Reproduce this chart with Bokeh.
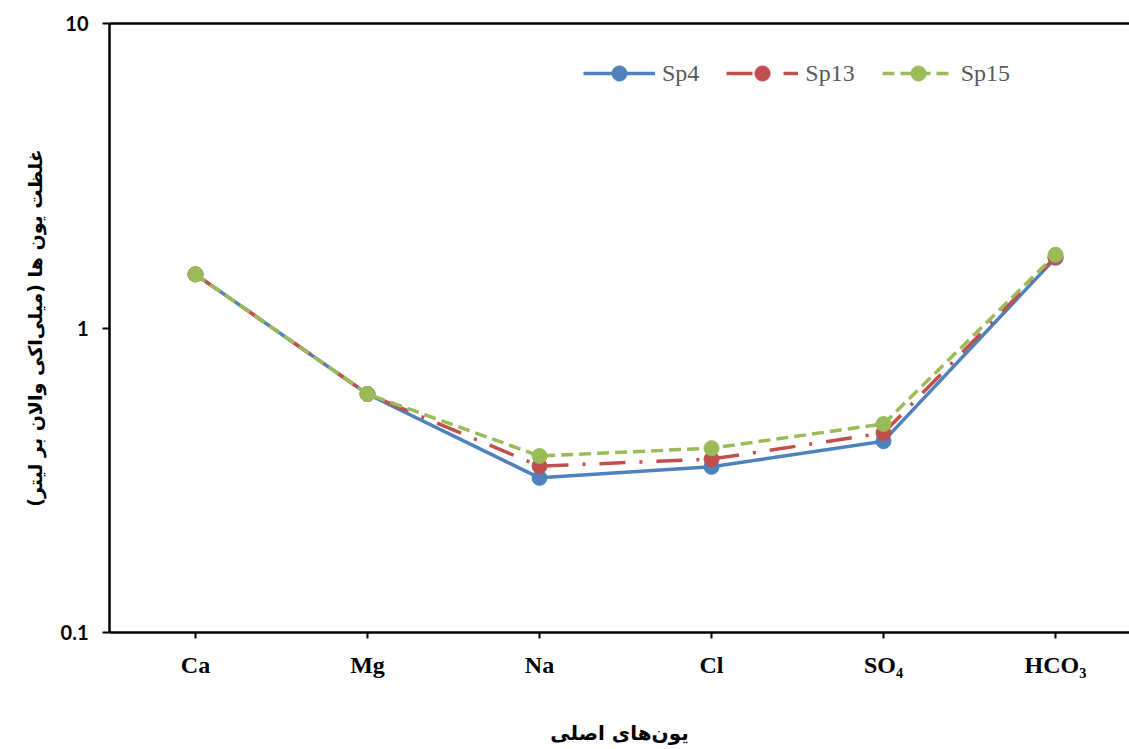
from bokeh.plotting import figure
from bokeh.models import (FixedTicker, Range1d, LinearAxis, Legend, LegendItem,
                          CustomJSTickFormatter)
from bokeh.embed import file_html
from bokeh.resources import INLINE

categories = ["Ca", "Mg", "Na", "Cl", "SO₄", "HCO₃"]
series_names = ["Sp4", "Sp13", "Sp15"]
sp4 = [1.50, 0.607, 0.322, 0.350, 0.425, 1.70]
sp13 = [1.50, 0.607, 0.352, 0.371, 0.452, 1.71]
sp15 = [1.50, 0.607, 0.380, 0.403, 0.484, 1.74]
y_ticks = [0.1, 1, 10]

x_title = "یون‌های اصلی"
y_title = "غلظت یون ها (میلی‌اکی والان بر لیتر)"

xs = list(range(len(categories)))

p = figure(width=1129, height=749, y_axis_type="log",
           x_range=Range1d(-0.5, 5.43), y_range=Range1d(0.1, 10),
           output_backend="svg", toolbar_location=None,
           min_border_left=109, min_border_right=0,
           min_border_top=23, min_border_bottom=117)
p.grid.visible = False
p.outline_line_color = None
p.background_fill_color = "white"
p.border_fill_color = "white"

# x axis
xa = p.xaxis[0]
xa.ticker = FixedTicker(ticks=xs, minor_ticks=[])
xa.major_label_overrides = {i: c for i, c in enumerate(categories)}
xa.axis_line_color = "black"
xa.axis_line_width = 2.5
xa.major_tick_line_color = "black"
xa.major_tick_line_width = 2
xa.major_tick_out = 6
xa.major_tick_in = 0
xa.minor_tick_line_color = None
xa.major_label_standoff = 13
xa.major_label_text_font = "Liberation Serif"
xa.major_label_text_font_style = "bold"
xa.major_label_text_font_size = "24px"
xa.major_label_text_color = "black"
xa.axis_label = x_title
xa.axis_label_text_font = "DejaVu Sans"
xa.axis_label_text_font_style = "bold"
xa.axis_label_text_font_size = "20px"
xa.axis_label_text_color = "black"
xa.axis_label_standoff = 40

# y axis
ya = p.yaxis[0]
ya.ticker = FixedTicker(ticks=y_ticks, minor_ticks=[])
ya.formatter = CustomJSTickFormatter(code="return tick < 1 ? tick.toFixed(1) : tick.toFixed(0);")
ya.axis_line_color = "black"
ya.axis_line_width = 2.5
ya.major_tick_line_color = "black"
ya.major_tick_line_width = 2
ya.major_tick_out = 7
ya.major_tick_in = 0
ya.minor_tick_line_color = None
ya.major_label_standoff = 14
ya.major_label_text_font = "Lato"
ya.major_label_text_font_style = "bold"
ya.major_label_text_font_size = "20px"
ya.major_label_text_color = "black"
ya.axis_label = y_title
ya.axis_label_text_font = "DejaVu Sans"
ya.axis_label_text_font_style = "bold"
ya.axis_label_text_font_size = "19px"
ya.axis_label_text_color = "black"
ya.axis_label_standoff = 12

# top border line
top = LinearAxis(ticker=FixedTicker(ticks=[]), axis_line_color="black", axis_line_width=2.5,
                 major_tick_line_color=None, minor_tick_line_color=None)
p.add_layout(top, "above")

colors = ["#4F81BD", "#C0504D", "#9BBB59"]
dashes = ["solid", "26 14 3 14", "12 6"]
items = []
for name, vals, col, dash in zip(series_names, [sp4, sp13, sp15], colors, dashes):
    l = p.line(xs, vals, line_color=col, line_width=3.5, line_dash=dash)
    c = p.scatter(xs, vals, size=15, fill_color=col, line_color=col, marker="circle")
    items.append(LegendItem(label=name, renderers=[l, c]))

legend = Legend(items=items, orientation="horizontal", location=(474, 540),
                border_line_color=None, background_fill_alpha=0, padding=0, margin=0,
                spacing=27, glyph_width=72, glyph_height=38, label_standoff=7,
                label_text_font="Liberation Serif", label_text_font_size="24px",
                label_text_color="#595959", label_height=38)
p.add_layout(legend)

open("out.html", "w").write(file_html(p, INLINE))
